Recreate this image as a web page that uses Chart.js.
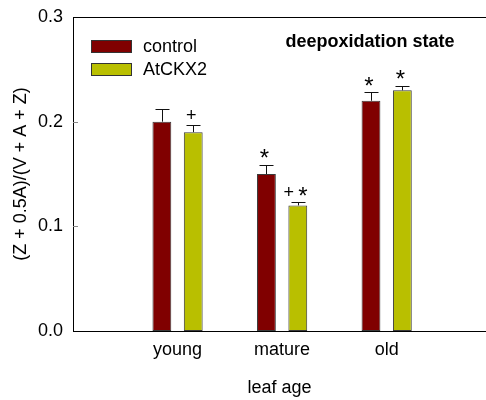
<!DOCTYPE html>
<html>
<head>
<meta charset="utf-8">
<script src="https://cdn.jsdelivr.net/npm/chart.js@4.4.0/dist/chart.umd.min.js"></script>
<style>
  html, body { margin: 0; padding: 0; background: #fff; }
</style>
</head>
<body>
<canvas id="chart" width="486" height="400"></canvas>
<script>
/* data */
const categories = ["young", "mature", "old"];
const seriesNames = ["control", "AtCKX2"];
const controlValues = [0.200, 0.150, 0.220];
const controlErrors = [0.012, 0.009, 0.008];
const ckxValues = [0.190, 0.120, 0.230];
const ckxErrors = [0.007, 0.003, 0.0045];
const controlMarks = ["", "*", "*"];
const ckxMarks = ["+", "+*", "*"];
const yTicks = [0, 0.1, 0.2, 0.3];
const chartTitle = "deepoxidation state";

const FONT = "'Liberation Sans', Arial, sans-serif";
const colors = ["#800000", "#b9bf00"];

/* error bars, marks, legend, frame */
const extras = {
  id: "extras",
  afterDatasetsDraw(chart) {
    const ctx = chart.ctx;
    const y = chart.scales.y;
    const area = chart.chartArea;
    const errs = [controlErrors, ckxErrors];
    const vals = [controlValues, ckxValues];
    const marks = [controlMarks, ckxMarks];

    ctx.save();
    // top frame line + inward ticks
    ctx.strokeStyle = "#000";
    ctx.lineWidth = 1;
    ctx.beginPath();
    ctx.moveTo(area.left, Math.round(area.top) + 0.5);
    ctx.lineTo(area.right, Math.round(area.top) + 0.5);
    ctx.stroke();
    ctx.strokeStyle = "#888";
    yTicks.forEach((t) => {
      if (t === 0 || t === yTicks[yTicks.length - 1]) return;
      const py = Math.round(y.getPixelForValue(t)) + 0.5;
      ctx.beginPath();
      ctx.moveTo(area.left, py);
      ctx.lineTo(area.left + 5, py);
      ctx.stroke();
    });

    for (let d = 0; d < 2; d++) {
      const meta = chart.getDatasetMeta(d);
      meta.data.forEach((bar, i) => {
        const top = y.getPixelForValue(vals[d][i] + errs[d][i]);
        const base = y.getPixelForValue(vals[d][i]);
        const bx = Math.round(bar.x) + 0.5;
        ctx.strokeStyle = "#111";
        ctx.lineWidth = 1;
        ctx.beginPath();
        ctx.moveTo(bx, base);
        ctx.lineTo(bx, Math.round(top) + 0.5);
        ctx.moveTo(bx - 7, Math.round(top) + 0.5);
        ctx.lineTo(bx + 7, Math.round(top) + 0.5);
        ctx.stroke();

        // significance marks
        const glyphs = marks[d][i].split("");
        const step = 14;
        const startX = bar.x - 2 - (glyphs.length - 1) * step / 2;
        glyphs.forEach((g, k) => {
          ctx.font = (g === "*" ? "24px " : "18px ") + FONT;
          ctx.fillStyle = "#000";
          ctx.textAlign = "center";
          ctx.textBaseline = "alphabetic";
          const m = ctx.measureText(g);
          const cy = top - 11;
          const dy = (m.actualBoundingBoxAscent - m.actualBoundingBoxDescent) / 2;
          ctx.fillText(g, startX + k * step, cy + dy);
        });
      });
    }

    // legend
    ctx.font = "18px " + FONT;
    ctx.textAlign = "left";
    ctx.textBaseline = "middle";
    seriesNames.forEach((name, k) => {
      const ly = 40 + k * 23;
      ctx.fillStyle = colors[k];
      ctx.fillRect(91, ly, 41, 13);
      ctx.strokeStyle = "#333";
      ctx.lineWidth = 1;
      ctx.strokeRect(91.5, ly + 0.5, 40, 12);
      ctx.fillStyle = "#000";
      ctx.fillText(name, 143, ly + 7);
    });

    // title
    ctx.font = "bold 18px " + FONT;
    ctx.textAlign = "center";
    ctx.textBaseline = "alphabetic";
    ctx.fillText(chartTitle, 370, 47);
    ctx.restore();
  }
};

new Chart(document.getElementById("chart"), {
  type: "bar",
  data: {
    datasets: [
      {
        label: seriesNames[0],
        data: categories.map((c, i) => ({ x: i + 1, y: controlValues[i] })),
        backgroundColor: colors[0],
        borderColor: "#3a3a3a",
        borderWidth: 1,
        borderSkipped: false
      },
      {
        label: seriesNames[1],
        data: categories.map((c, i) => ({ x: i + 1, y: ckxValues[i] })),
        backgroundColor: colors[1],
        borderColor: "#3a3a3a",
        borderWidth: 1,
        borderSkipped: false
      }
    ]
  },
  options: {
    responsive: false,
    animation: false,
    layout: { padding: { top: 17, left: 0, right: 0, bottom: 0 } },
    categoryPercentage: 0.6,
    barPercentage: 0.6,
    plugins: {
      legend: { display: false },
      tooltip: { enabled: false }
    },
    scales: {
      x: {
        type: "linear",
        offset: false,
        min: 0,
        max: 3.95,
        grid: { display: false, drawTicks: false, offset: false },
        border: { display: true, color: "#000", width: 1 },
        afterBuildTicks: (s) => { s.ticks = categories.map((c, i) => ({ value: i + 1 })); },
        afterFit: (s) => { s.height = 69; },
        ticks: {
          padding: 8,
          color: "#000",
          font: { family: FONT, size: 18 },
          callback: (v) => categories[v - 1]
        },
        title: {
          display: true,
          text: "leaf age",
          color: "#000",
          font: { family: FONT, size: 18 },
          padding: { top: 0, bottom: 1 }
        }
      },
      y: {
        min: 0,
        max: 0.3,
        grid: { display: false, drawTicks: false },
        border: { display: true, color: "#000", width: 1 },
        afterBuildTicks: (s) => { s.ticks = yTicks.map((v) => ({ value: v })); },
        afterFit: (s) => { s.width = 73; s.paddingTop = 0; s.paddingBottom = 0; },
        ticks: {
          padding: 10,
          color: "#000",
          font: { family: FONT, size: 18 },
          callback: (v) => v.toFixed(1)
        },
        title: {
          display: true,
          text: "(Z + 0.5A)/(V + A + Z)",
          color: "#000",
          font: { family: FONT, size: 18 },
          padding: { top: 10, bottom: 0 }
        }
      }
    }
  },
  plugins: [extras]
});
</script>
</body>
</html>
